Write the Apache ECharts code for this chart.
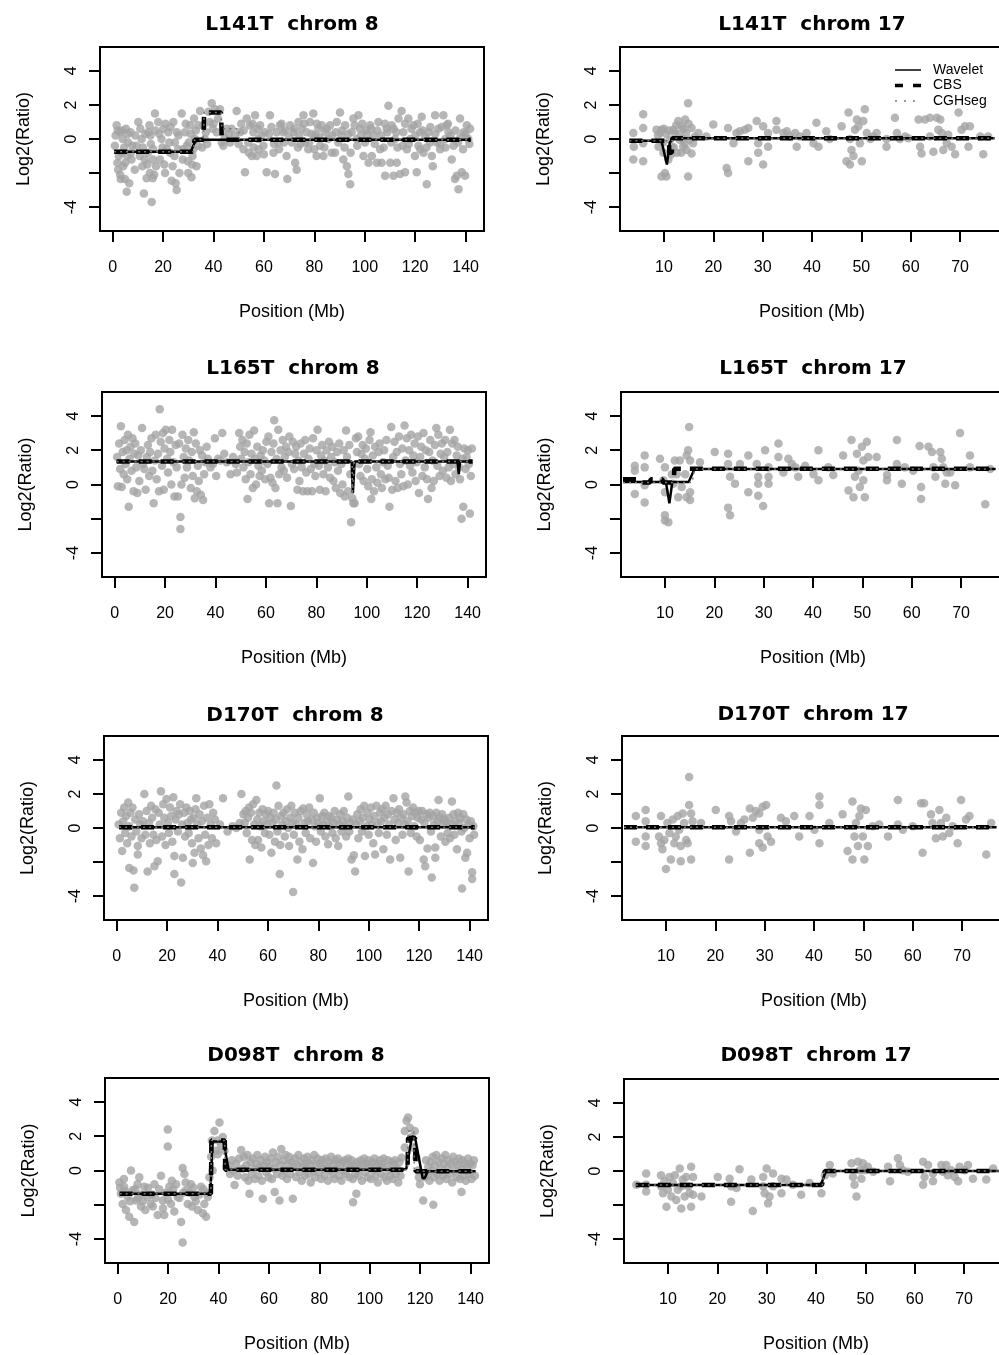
<!DOCTYPE html>
<html>
<head>
<meta charset="utf-8">
<script src="https://cdn.jsdelivr.net/npm/echarts@6.0.0/dist/echarts.min.js"></script>
<style>
  html, body { margin: 0; padding: 0; background: #fff; }
  #chart { width: 999px; height: 1355px; }
</style>
</head>
<body>
<div id="chart"></div>
<script>
// tick values
const xTicks8 = [0, 20, 40, 60, 80, 100, 120, 140];
const xTicks17 = [10, 20, 30, 40, 50, 60, 70];
const yTicks = [-4, -2, 0, 2, 4];
const yLabels = [-4, 0, 2, 4];

const titles = ['L141T  chrom 8', 'L141T  chrom 17', 'L165T  chrom 8', 'L165T  chrom 17',
  'D170T  chrom 8', 'D170T  chrom 17', 'D098T  chrom 8', 'D098T  chrom 17'];

// ---- L141T chrom 8 ----
const l141t8Pts = [
  [0.9,-0.4],[1.6,0.8],[1.9,-1.4],[2.2,-1.8],[2.9,0.4],[3.2,-2.35],[3.6,-0.8],[4,0],[4.2,-1.6],[4.9,-2.35],[5.3,0.6],[5.6,-3.1],[5.8,-1.0],[6.2,-0.2],[6.6,-2.6],[7.1,0.4],[7.5,-1.2],[7.9,-0.4],
  [1.2,0.2],[2.5,-1.0],[3.8,0.5],[4.6,-0.5],[6.0,0.3],[7.3,-0.8],[2.0,0.5],[5.0,-1.4],[3.0,-2.1],
  [8.8,-1.8],[10.2,1.0],[9.5,-0.4],[10.8,-1.0],[11.5,0],[12.4,-3.2],[12.8,-1.2],[13.5,-2.3],[14.2,0.4],[14.6,0.8],[14.8,-2.0],[15.5,-3.7],[15.9,-2.3],[16.1,-0.6],[16.8,1.5],[17.2,-1.6],
  [9.0,0.2],[11.0,0.6],[12.0,-0.5],[13.0,0.3],[14.0,-0.8],[15.0,0.2],[16.0,-1.2],[17.0,0.5],[13.8,-1.5],[16.5,-2.1],[15.2,-0.3],[11.8,-1.6],
  [18.1,1.0],[18.8,-1.2],[19.4,0],[20.1,0.6],[20.8,-2.0],[21.4,-0.6],[22.1,0.4],[22.8,-0.8],[23.4,-2.45],[24.1,1.0],[24.7,-0.2],[25.4,-3.0],[26.1,0.2],[26.5,-2.0],
  [18.5,0.3],[19.8,-0.5],[21.0,0.9],[22.5,-0.2],[23.0,0.7],[24.5,-1.0],[25.5,0.4],[26.0,-0.6],[20.5,-1.5],[23.8,-1.6],[25.0,-2.6],
  [27.4,1.5],[27.8,-1.2],[28.7,0.4],[29.4,-0.4],[30,-2.0],[30.7,0.8],[31.3,-2.25],[31.7,-1.0],[32.3,1.2],[32.7,0],[33.3,-1.6],[34,0.8],[34.7,1.65],
  [28.0,-0.6],[29.0,0.9],[30.2,-0.2],[31.0,0.3],[32.0,-0.6],[33.0,0.5],[33.8,-0.4],[29.8,-1.3],[31.5,-1.5],
  [36,0.8],[36.6,0],[38,1.6],[39.3,2.1],[39.7,0.6],[40.6,1.75],[41.3,0.4],[42.6,1.75],[43.3,-0.2],[43.9,-0.4],[45.2,0.6],[46.6,-0.2],[47.2,0.6],
  [35.5,-0.5],[37.0,0.4],[38.5,1.0],[40.0,0.9],[41.8,1.2],[44.5,0.1],[46.0,0.3],[37.5,-0.3],
  [49.2,1.65],[50.5,0.4],[51.9,-0.6],[52.5,-1.95],[53.2,1.2],[53.8,-0.2],[54.5,0.8],[55.2,-1.0],[55.8,0.4],[56.5,1.4],[57.1,-1.0],[57.8,0],[58.5,0.8],[59.8,-0.4],[60.4,0.4],[61.1,-1.95],
  [48.5,0.2],[50.0,-0.3],[51.0,0.9],[52.0,0.5],[54.0,-0.8],[56.0,-0.5],[57.5,0.6],[59.0,0.2],[60.0,-0.9],[58.0,-0.6],[55.5,0.9],
  [62.4,1.4],[63.8,-0.8],[64.4,-2.05],[65.1,0.4],[65.7,-0.2],[66.4,0.8],[67.7,0.4],[69,-1.0],[69.3,-2.35],[70.4,0.8],[71.1,-0.2],[71.7,0.4],[72.4,-1.4],[73,-1.8],[73.7,1.0],
  [62.0,0.3],[63.0,0.7],[64.0,-0.3],[66.0,-0.6],[67.0,0.9],[68.0,-0.2],[68.5,0.5],[70.0,0.1],[72.0,0.6],[73.5,-0.5],[74.0,0.2],
  [75,0.6],[75.7,1.4],[76.3,-0.2],[77,0.4],[77.6,-0.6],[78.3,1.0],[79.6,1.5],[80.3,0.2],[80.9,-1.0],[81.6,0.6],[82.3,-0.4],[82.9,0.8],[83.6,-1.0],[84.3,0.4],[85.6,0],[86.2,0.8],[86.9,-0.8],
  [74.5,-0.3],[76.0,0.9],[78.0,-0.2],[79.0,0.3],[81.0,0.9],[82.0,0.1],[84.0,-0.5],[85.0,0.6],[87.0,0.2],[80.0,-0.6],
  [88.2,-0.8],[88.9,1.0],[90.2,1.55],[90.9,0.2],[91.5,-1.2],[92.2,0.8],[92.9,-1.6],[93.5,-2.05],[94.2,-2.65],[94.4,-0.8],[94.8,0.4],[95.5,1.2],[96.8,0],[97.5,1.4],[98.1,0.6],[99.5,-1.0],[100.1,-0.2],
  [88.5,0.4],[89.5,-0.2],[91.0,0.5],[92.0,-0.5],[93.5,0.3],[96.0,0.8],[97.0,-0.4],[98.5,0.2],[99.0,0.9],[100.5,0.5],
  [101.5,-1.4],[102.1,0.8],[102.8,-1.0],[103.4,0.2],[104.8,-1.4],[105.4,1.0],[106.1,-0.6],[106.7,-1.4],[108.1,-2.15],[108.7,0.6],[109.4,1.95],[110.1,-1.4],[110.7,0.8],[111.4,-2.15],[112,0],[112.7,-1.4],[113.4,1.2],[114,-2.05],
  [101.0,0.3],[102.5,0.6],[104.0,-0.3],[105.0,0.5],[106.5,0.2],[107.5,-0.5],[109.0,0.4],[110.5,-0.2],[111.5,0.6],[113.0,-0.5],[108.0,0.9],[112.5,0.4],
  [114.6,1.65],[115.3,0.4],[116,-1.95],[116.7,-0.6],[117.3,1.2],[118,0],[119.3,0.8],[119.9,-1.0],[120.6,-1.95],[121.3,-0.4],[121.9,0.4],[122.6,1.3],[123.3,-0.8],[124.6,-2.65],[125.3,0.4],[125.9,-0.2],[126.6,-1.0],[127,-1.6],
  [115.0,-0.4],[116.0,0.9],[117.5,-0.3],[118.5,0.6],[120.0,0.2],[121.0,0.9],[122.0,-0.6],[123.0,0.5],[124.0,0.1],[126.0,0.7],[124.5,-0.5],
  [127.9,1.4],[128.6,-0.2],[129.2,0.6],[129.9,-0.6],[131.2,1.4],[131.9,0],[132.5,0.8],[133.2,0.4],[134.5,-1.2],[135.2,-0.4],[135.8,-2.35],[136.5,-2.15],[137.2,-2.95],[137.8,1.2],[138.5,-1.95],[139.2,0.4],[139.8,-2.15],[140.5,0.8],[141.1,0],[141.8,0.6],
  [128.0,0.3],[130.5,0.7],[130.0,-0.3],[132.0,-0.5],[133.0,0.9],[134.0,0.2],[136.0,0.5],[137.0,-0.2],[138.0,0.1],[139.0,-0.6],[140.0,0.3],[141.5,-0.3]
];
const l141t8Wav = [[0.6,-0.75],[31,-0.75],[33,-0.05],[142,-0.05]];
const l141t8Cbs = [[0.6,-0.75],[32,-0.75],[32.5,-0.05],[36,-0.05],[36.3,1.55],[43,1.55],[43.3,-0.05],[142,-0.05]];
const l141t8Cgh = [[0.6,-0.75],[32,-0.75],[32.5,-0.05],[36,-0.05],[36.3,1.55],[43,1.55],[43.3,0.6],[50,0.6],[50.3,-0.05],[142,-0.05]];

// ---- L141T chrom 17 ----
const l141t17Pts = [
  [3.8,0.35],[3.9,-0.45],[3.8,-1.2],[5.8,1.45],[5.8,0.65],[5.8,-0.25],[5.8,-1.3],
  [8.5,0.55],[8.9,-0.45],[9.2,0.35],[9.5,0.55],[9.9,-0.8],[10.2,-2.0],[9.5,-2.2],[10.5,-2.2],[10.9,-1.2],[11.2,-0.05],[11.6,-0.45],[11.9,0.55],[12.2,0.35],[12.6,-0.8],[12.9,1.05],[13.2,-0.05],[13.6,0.75],[13.9,-0.45],[14.3,1.15],[14.5,0.35],[14.6,-0.65],[14.9,2.1],[14.9,-2.2],[15.3,-0.05],[15.6,0.65],[15.9,-0.25],[15.6,-0.85],[17,0.35],[16.3,0.15],
  [8.8,0.2],[10.0,0.6],[10.5,0.3],[11.0,0.5],[12.0,-0.5],[13.0,0.3],[13.5,-0.8],[14.0,0.6],[12.5,0.8],[11.5,-0.9],[15.0,0.9],[14.2,-0.3],[9.8,-0.2],[13.8,0.0],
  [20,0.85],[18.6,0.15],[23,0.65],[22.7,-1.7],[23,-2.0],[24.1,-0.25],[24.7,0.35],[25.4,0.45],[26.4,0.55],[27.1,0.65],[27.1,-1.3],[28.8,1.05],[29.1,-0.25],[29.1,-0.8],[30.1,0.75],[30.1,-1.5],[31.1,-0.45],[31.1,0.35],
  [32.8,1.05],[32.8,0.55],[34.2,0.35],[34.9,0.45],[35.5,0.15],[36.6,0.35],[36.9,-0.45],[37.6,0.15],[38.9,0.35],[40.3,-0.25],[40.9,0.95],[41.3,-0.45],[42.9,0.45],[43.6,0],
  [46,0.75],[47.4,1.55],[47.7,0],[47,-1.3],[47.7,-1.5],[48,-0.65],[48.4,-1.0],[48.7,0.55],[49.1,1.15],[49.4,0.75],[49.7,-0.25],[50.1,-1.3],[50.4,1.05],[50.7,1.75],[51.1,0.35],[51.8,0],[52.4,0.15],[53.1,0.35],
  [55.1,-0.45],[55.1,0],[56.8,1.25],[57.2,0.35],[57.8,0],[58.9,0.15],[59.5,0.05],[61.6,1.15],[61.9,-0.45],[62.2,-0.85],[62.9,1.15],[63.9,1.25],[63.9,0.15],[64.6,-0.75],
  [65.3,1.25],[65.6,0.55],[66,1.15],[66.3,0.35],[66.6,-0.65],[67.3,-0.25],[67.6,0.25],[68.3,-0.45],[69,-0.9],[69.7,1.55],[70.3,0.55],[71,0.75],[71.7,-0.45],[72,0.75],[74.7,-0.9],[75.7,0.15],[74.1,0.15]
];
const l141t17Wav = [[3,-0.1],[9.5,-0.1],[10.6,-1.5],[11.2,-0.2],[12,0.05],[77,0.05]];
const l141t17Cbs = [[3,-0.1],[11,-0.1],[11.1,-0.8],[11.6,-0.8],[11.7,0.05],[77,0.05]];
const l141t17Cgh = [[3,-0.1],[12,-0.1],[12.1,0.05],[77,0.05]];

// ---- L165T chrom 8 ----
const l165t8Pts = [
  [1.0,1.6],[1.3,-0.1],[1.8,2.4],[2.2,0.9],[2.5,3.4],[2.8,-0.15],[3.2,1.9],[3.6,0.6],[4.0,2.6],[4.4,1.2],[4.8,2.0],[5.0,0.3],[5.6,-1.3],[5.3,2.9],
  [5.9,1.5],[6.3,2.2],[6.7,0.8],[7.1,2.7],[7.5,-0.4],[7.8,1.8],[8.2,2.4],[8.6,1.0],[9.0,-0.5],[9.4,1.7],[9.8,0.2],
  [10.4,2.0],[10.9,3.3],[11.3,1.2],[11.8,0.9],[12.3,-0.3],[12.8,1.6],[13.2,2.3],[13.7,0.5],[14.1,1.9],[14.6,2.7],[15.0,0.8],
  [15.5,-1.1],[15.9,1.4],[16.3,2.9],[16.7,0.3],[17.2,1.8],[17.6,-0.4],[17.9,4.4],[18.3,2.5],[18.8,1.1],[19.2,3.0],[19.5,-0.3],[19.8,2.1],
  [20.3,3.2],[20.8,1.5],[21.2,0.7],[21.7,2.6],[22.1,1.9],[22.5,0.0],[22.8,3.2],[23.3,1.3],[23.7,-0.7],[24.2,2.3],[24.6,1.0],
  [25.1,-0.7],[25.6,2.4],[26.1,-1.9],[26.1,-2.6],[26.5,0.0],[26.9,2.9],[27.4,1.6],[27.8,0.4],[28.3,2.1],[28.7,1.0],[29.2,2.6],[29.6,1.4],
  [30.2,-0.2],[30.6,1.9],[31.0,0.5],[31.4,3.05],[31.8,-0.8],[32.2,2.4],[32.6,-0.4],[33.0,1.1],[33.4,0.2],[33.8,2.0],[34.2,-0.6],[34.7,1.7],
  [35.1,-0.9],[35.5,0.6],[36.0,1.3],[36.5,2.2],[37.0,1.5],[38.0,1.0],[39.0,1.2],[39.8,2.7],[40.3,0.5],
  [41.0,1.5],[42.0,1.4],[42.7,3.0],[43.5,1.8],[44.5,1.3],
  [46.0,0.6],[47.0,1.6],[48.0,1.2],[48.5,0.7],[49.4,3.0],[49.8,2.2],[50.2,1.5],
  [50.7,2.6],[51.1,1.0],[51.6,1.9],[52.0,0.3],[52.4,2.4],[52.7,-0.85],[53.1,1.3],[53.5,2.9],[53.9,0.6],[54.3,1.8],[54.8,-0.2],
  [55.3,3.15],[55.7,1.5],[56.1,0.0],[56.6,2.2],[57.0,1.1],[57.5,0.5],[57.9,1.7],[58.4,0.8],[58.8,2.0],[59.3,1.4],[59.7,0.3],
  [60.2,2.5],[60.6,1.2],[61.0,2.8],[61.3,-1.1],[61.8,0.4],[62.2,1.9],[62.6,0.1],[63.0,2.4],[63.3,3.75],[63.8,-0.2],[64.2,1.5],[64.6,-1.1],[64.9,3.2],
  [65.3,0.6],[65.8,2.0],[66.2,1.0],[66.7,2.6],[67.1,0.8],[67.5,1.6],[68.0,2.2],[68.4,0.4],[68.9,1.9],[69.3,2.8],[69.9,-1.25],
  [70.3,1.2],[70.7,2.5],[71.2,0.9],[71.6,1.8],[72.0,2.2],[72.5,-0.3],[72.9,1.4],[73.3,0.2],[73.8,2.4],[74.2,1.0],[74.7,-0.4],
  [75.1,1.8],[75.6,2.6],[76.0,0.7],[76.5,-0.4],[76.9,1.5],[77.4,2.1],[77.8,0.9],[78.3,-0.4],[78.7,2.7],[79.2,1.2],[79.6,0.5],
  [80.1,2.0],[80.5,3.2],[81.0,1.1],[81.4,-0.3],[81.9,1.7],[82.3,2.3],[82.8,0.6],[83.2,1.4],[83.7,-0.4],[84.1,2.0],[84.6,1.0],
  [85.0,2.5],[85.5,0.4],[85.9,1.6],[86.4,2.2],[86.8,0.2],[87.3,1.3],[87.7,-0.2],[88.2,1.9],[88.6,0.8],[89.1,2.4],[89.5,-0.5],
  [90.0,1.2],[90.4,0.0],[90.9,2.0],[91.3,-0.7],[91.8,3.15],[92.2,1.6],[92.6,-0.4],[93.1,2.3],[93.5,0.6],[93.8,-2.2],[94.3,-0.8],[94.7,-1.1],
  [95.2,-1.1],[95.7,2.7],[96.1,1.9],[96.6,2.8],[97.0,1.2],[97.5,0.5],[97.9,1.8],[98.4,2.3],[98.8,0.2],[99.3,1.5],[99.7,2.1],
  [100.2,0.9],[100.6,-0.1],[101.1,2.6],[101.5,3.05],[101.8,-0.85],[102.0,0.3],[102.4,1.7],[102.9,-0.4],[103.3,2.2],[103.8,1.0],[104.2,0.1],[104.7,1.9],
  [105.1,2.4],[105.6,0.6],[106.0,-0.2],[106.5,1.3],[106.9,2.0],[107.4,0.3],[107.8,2.6],[108.3,1.1],[108.7,0.4],[109.0,-1.3],[109.7,3.35],
  [110.1,-0.3],[110.5,1.6],[111.0,2.5],[111.4,0.2],[111.9,1.9],[112.3,-0.2],[112.8,2.8],[113.2,1.2],[113.7,0.6],[114.1,2.1],[114.5,-0.1],[115.0,3.45],
  [115.4,1.4],[115.9,2.7],[116.3,0.0],[116.8,2.0],[117.2,1.1],[117.6,2.9],[118.1,0.7],[118.5,1.7],[119.0,2.4],[119.4,0.2],[119.8,1.3],
  [120.3,2.8],[120.7,-0.5],[121.2,1.6],[121.6,2.2],[122.1,0.5],[122.5,3.0],[123.0,1.0],[123.4,2.0],[123.9,0.3],[124.3,-0.85],[124.8,1.9],
  [125.2,2.6],[125.7,-0.2],[126.1,1.4],[126.6,0.2],[127.0,2.3],[127.6,3.3],[128.0,1.1],[128.4,2.9],[128.9,0.5],[129.3,1.8],[129.8,2.4],
  [130.2,0.8],[130.7,1.6],[131.1,2.6],[131.6,0.4],[132.0,1.9],[132.5,1.0],[133.0,3.2],[133.4,0.2],[133.9,2.4],[134.3,1.2],[134.8,2.6],
  [135.2,0.6],[135.7,1.7],[136.1,2.2],[136.6,1.0],[137.0,0.3],[137.6,-2.0],[138.0,1.5],[138.3,-1.3],[138.7,2.1],[139.2,0.9],[139.6,1.6],[140.1,2.0],[140.5,1.2],[140.9,-1.7],[141.3,0.5],[141.7,2.1]
];
const l165t8Wav = [[0.8,1.35],[94,1.35],[94.5,-0.5],[95.2,1.35],[136,1.35],[136.5,0.6],[137,1.35],[142,1.35]];
const l165t8Cbs = [[0.8,1.35],[142,1.35]];
const l165t8Cgh = [[0.8,1.35],[94.2,1.35],[94.3,-0.6],[95,-0.6],[95.1,1.35],[142,1.35]];

// ---- L165T chrom 17 ----
const l165t17Pts = [
  [3.9,1.1],[3.9,0.8],[3.9,-0.55],[5.9,1.7],[5.9,1.0],[5.9,-0.05],[5.9,-1.05],[9,1.5],[10,1.0],[9.7,0.25],[10,-0.45],[10,-1.8],[10.7,-2.2],[10,-2.1],
  [11.4,0.6],[11.7,0.05],[12,1.4],[12.4,0.6],[12.7,-0.75],[13,1.4],[13.4,-0.15],[14.1,0.6],[14.4,-0.75],[14.7,2.0],[14.9,3.35],[15.1,1.4],[15.1,-0.45],[15.1,-0.9],[14.4,1.7],[17.1,1.3],
  [20.1,1.9],[22.8,1.8],[22.8,1.2],[23.2,0.45],[24.2,0.05],[22.8,-1.35],[23.2,-1.8],[25.2,1.2],[26.9,1.7],[26.9,-0.45],[28.6,1.2],[28.9,0.45],[28.9,0.05],[28.9,-0.65],[29.9,-1.25],[30.3,2.0],[31,1.0],[31,0.45],[31,0.05],
  [33,2.4],[33,1.6],[34,0.7],[35,1.5],[35.7,1.2],[36.4,1.0],[37,0.45],[38.4,1.1],[40.1,0.6],[41.1,2.0],[41.1,0.25],[43.1,1.0],[44.1,0.55],
  [46.1,1.7],[47.2,-0.35],[47.8,2.6],[48.2,-0.75],[48.5,0.45],[48.9,1.8],[49.2,0.8],[49.5,-0.15],[49.9,2.2],[50.2,1.4],[50.5,-0.75],[50.2,0.25],[50.9,2.5],[51.2,1.6],[52.9,1.6],
  [55,0.55],[55,0.25],[57,2.6],[57,1.2],[58,0.05],[58.6,1.0],[60.3,0.8],[61.6,2.25],[61.9,-0.15],[61.9,-0.85],[63.4,2.2],[64.1,1.9],[64.4,1.0],[64.8,0.45],
  [65.8,1.9],[66.1,1.5],[66.4,1.0],[66.8,0.05],[67.1,0.7],[67.8,0.7],[68.8,-0.05],[69.8,3.0],[71.8,1.7],[71.8,1.0],[74.9,-1.15],[75.9,0.9]
];
const l165t17Wav = [[1.5,0.15],[10.2,0.15],[10.9,-1.1],[11.5,0.15],[14.8,0.15],[16,0.9],[77,0.9]];
const l165t17Cbs = [[1.5,0.3],[4.2,0.3],[4.3,0.12],[7,0.12],[7.1,0.3],[9.5,0.3],[9.6,0.12],[11.8,0.12],[11.9,0.92],[77,0.92]];
const l165t17Cgh = [[1.5,0.12],[15.5,0.12],[16,0.9],[77,0.9]];

// ---- D170T chrom 8 ----
const d170t8Pts = [
  [0.8,0.2],[1.3,-0.6],[1.8,0.9],[2.2,-1.35],[2.6,0.4],[3.0,1.2],[3.4,-0.3],[3.8,0.7],[4.2,-0.9],[4.6,1.5],[5.0,-2.35],[5.0,0.1],
  [5.5,0.9],[5.9,-0.5],[6.3,1.2],[6.7,-2.5],[7.0,-3.5],[7.4,0.5],[7.8,-0.2],[8.4,-1.05],[8.4,-1.55],[8.9,0.8],[9.4,0.2],[9.9,-0.6],
  [10.4,0.4],[11.0,2.0],[11.4,-0.4],[11.9,1.0],[12.3,-2.55],[12.8,0.3],[13.2,-0.9],[13.7,1.3],[14.1,0.6],[14.6,-0.4],[15.0,-2.25],
  [15.4,1.1],[15.8,-0.7],[16.3,-1.95],[16.7,0.9],[17.1,0.2],[17.6,2.15],[18.0,-0.5],[18.5,1.4],[18.9,0.6],[19.4,-1.0],[19.8,1.7],
  [20.3,0.3],[20.7,-0.3],[21.2,1.2],[21.6,0.7],[22.1,-0.8],[22.5,1.8],[22.9,-1.65],[22.9,-2.7],[23.4,0.5],[23.8,1.0],[24.3,-0.2],[24.7,0.8],
  [25.2,1.4],[25.6,-3.2],[26.0,0.2],[26.3,-1.75],[26.8,0.9],[27.2,-0.5],[27.7,1.2],[28.1,0.3],[28.6,-0.3],[29.0,1.0],[29.5,0.5],[29.9,-0.9],
  [30.2,-2.05],[30.6,0.6],[30.9,-1.45],[31.3,1.1],[31.6,1.75],[32.0,0.2],[32.5,-0.6],[32.9,0.8],[33.4,-1.2],[33.8,0.4],[34.3,-1.6],[34.7,1.3],
  [35.1,-0.4],[35.5,-1.95],[35.9,0.6],[36.4,-1.0],[36.8,1.4],[37.3,0.2],[37.8,-0.6],[38.3,0.9],[39.0,0.5],[39.5,-0.9],
  [41.0,0.2],[42.2,1.75],[44.0,-0.2],[46.0,0.1],[47.5,0.0],[48.8,0.3],[49.5,2.0],
  [50.3,0.8],[50.8,0.3],[51.2,1.0],[51.6,-0.3],[52.1,0.6],[52.5,1.2],[52.8,-1.85],[53.3,0.9],[53.7,-0.7],[54.1,1.4],[54.6,0.2],[55.0,-1.0],
  [55.4,1.65],[55.8,0.5],[56.1,-0.7],[56.6,0.9],[57.0,0.1],[57.4,-1.15],[57.9,1.1],[58.3,0.4],[58.8,-0.3],[59.2,0.8],[59.7,0.2],
  [60.1,1.0],[60.6,-0.4],[61.0,0.6],[61.4,-1.45],[61.9,0.3],[62.3,0.9],[62.8,-0.8],[63.2,0.5],[63.4,2.5],[63.8,-0.2],[64.2,1.3],[64.7,-2.7],[64.9,-1.0],
  [65.3,0.7],[65.8,0.2],[66.2,0.9],[66.7,-0.5],[67.1,0.4],[67.6,1.1],[68.0,0.0],[68.4,-1.05],[68.9,0.6],[69.3,1.3],[69.8,0.3],
  [70.0,-3.75],[70.3,-0.4],[70.7,0.9],[71.2,0.2],[71.7,-1.85],[72.1,0.6],[72.5,-0.8],[73.0,1.0],[73.7,-1.25],[74.0,1.15],[74.5,0.3],
  [75.0,-0.3],[75.4,0.8],[75.9,0.4],[76.4,1.2],[76.8,-0.6],[77.3,0.5],[77.9,-2.05],[78.2,0.9],[78.7,0.1],[79.1,-0.8],[79.6,0.6],
  [80.0,0.3],[80.6,1.75],[81.0,-0.2],[81.5,0.7],[81.9,0.2],[82.4,0.9],[82.8,-0.5],[83.3,0.4],[83.9,-0.95],[84.2,0.7],[84.7,0.1],
  [85.1,0.6],[85.6,-0.3],[86.0,0.3],[86.5,1.0],[86.9,-0.6],[87.4,0.5],[87.9,-1.05],[88.3,0.2],[88.8,0.8],[89.2,-0.2],[89.7,0.4],
  [90.1,1.0],[90.6,0.1],[91.0,-0.5],[91.5,0.6],[91.9,1.85],[92.3,-0.2],[92.8,0.3],[93.2,-1.85],[93.7,0.5],[94.1,-1.6],[94.6,-2.55],
  [95.0,0.2],[95.5,0.8],[95.9,-0.6],[96.4,0.4],[96.8,1.1],[97.3,-0.2],[97.7,0.6],[98.2,1.3],[98.5,-1.65],[99.0,0.1],[99.5,0.9],
  [100.0,-0.4],[100.4,0.5],[100.9,1.2],[101.3,0.2],[101.8,-0.9],[102.2,0.7],[102.5,-1.55],[103.1,1.3],[103.6,0.3],[104.0,-0.3],[104.5,0.9],
  [104.9,0.4],[105.4,1.1],[105.8,-1.25],[106.3,0.6],[106.7,1.3],[107.2,-0.4],[107.6,0.8],[108.1,0.2],[108.5,-1.85],[109.0,1.0],[109.8,1.75],
  [110.2,0.5],[110.7,-0.7],[111.1,0.9],[111.6,0.3],[112.0,1.1],[112.5,-1.75],[112.9,0.6],[113.4,-0.4],[113.8,0.8],[114.3,0.2],[114.5,1.85],
  [115.0,1.5],[115.4,0.4],[115.8,-2.55],[116.3,1.0],[116.7,-0.3],[117.2,0.7],[117.6,1.2],[118.1,0.1],[118.5,0.9],[119.0,-0.5],[119.4,0.6],
  [119.9,1.0],[120.3,-0.7],[120.8,0.5],[121.2,1.0],[121.8,-1.85],[122.1,0.3],[122.4,-2.25],[122.9,0.8],[123.3,-1.2],[123.8,0.6],[124.2,0.9],[124.7,-0.2],
  [125.0,-2.9],[125.5,0.7],[125.9,0.2],[126.4,-1.75],[126.4,-1.15],[126.8,0.9],[127.3,0.4],[127.7,1.65],[128.2,0.6],[128.6,-0.5],[129.1,0.8],[129.5,0.2],
  [130.0,0.5],[130.4,-0.8],[130.9,0.3],[131.3,-0.3],[131.8,0.6],[132.2,-0.6],[132.7,0.2],[133.0,1.55],[133.6,0.8],[134.0,-0.4],[134.5,0.4],[135.0,-1.25],
  [135.4,0.9],[135.9,0.3],[136.3,0.6],[136.8,-0.2],[137.0,-3.55],[137.5,0.8],[137.9,0.0],[138.3,-1.75],[138.8,0.5],[139.0,-1.45],[139.6,0.2],[140.0,-0.6],[140.5,0.4],[141.0,-2.6],[141.0,-3.0],[141.5,0.1],[141.8,-0.4]
];
const d170t8Wav = [[1,0.05],[142,0.05]];
const d170t8Cbs = [[1,0.05],[142,0.05]];
const d170t8Cgh = [[1,0.05],[142,0.05]];

// ---- D170T chrom 17 ----
const d170t17Pts = [
  [3.9,0.7],[3.9,-0.8],[5.9,1.05],[5.9,0.4],[5.9,-0.5],[5.9,-1.05],[9,0.7],[8.6,-0.5],[9,-0.9],[9.3,-1.25],[10,-2.4],[9.7,-0.7],[10.3,0.3],[10.7,-0.3],[11,-1.85],
  [11.4,0.5],[11.7,-0.9],[12,-0.5],[12.4,0.7],[12.7,-0.1],[13,-1.95],[13,-1.05],[13.4,0.85],[13.7,0.3],[14.1,-0.7],[14.4,-0.9],[14.7,3.0],[14.7,1.35],[15.1,0.85],[15.1,-1.85],[15.4,0.4],[17.1,0.3],
  [20.1,1.05],[22.8,-1.85],[22.8,0.7],[23.2,0.4],[24.2,-0.2],[25.2,0.3],[25.9,0.5],[27,1.15],[27,-1.45],[27.6,0.6],[28.2,1.0],[28.9,0.85],[28.9,-0.1],[28.9,-0.9],[29.6,1.25],[29.6,-1.15],[30.3,1.35],[30.6,-0.5],[31.3,-0.8],
  [33.3,0.6],[34.3,0.4],[36,0.7],[37,-0.5],[39.1,0.7],[40.1,-0.1],[41.1,1.85],[41.1,1.35],[41.1,-0.9],[43.1,0.3],
  [45.8,0.8],[46.8,-1.35],[47.8,1.55],[47.8,-1.85],[48.2,-0.5],[48.5,0.3],[48.9,-1.05],[49.2,0.7],[49.5,1.15],[49.9,-0.5],[50.2,-1.85],[50.5,1.05],[50.9,-1.05],[51.9,0.1],[53.2,0.2],
  [55,-0.5],[57,1.65],[57,0.2],[58,-0.1],[60,0.1],[61.7,1.45],[62,-1.45],[62.3,1.45],[63.7,0.8],[64,0.3],[64.7,-0.6],
  [65.4,1.05],[65.7,0.3],[66.1,-0.5],[66.8,0.6],[67.4,-0.3],[68.1,0.1],[69.1,-0.9],[69.8,1.65],[70.8,0.5],[71.5,0.7],[74.9,-1.55],[75.9,0.3]
];
const d170t17Wav = [[1.5,0.05],[77,0.05]];
const d170t17Cbs = [[1.5,0.05],[77,0.05]];
const d170t17Cgh = [[1.5,0.05],[77,0.05]];

// ---- D098T chrom 8 ----
const d098t8Pts = [
  [0.7,-0.7],[1.3,-1.35],[2,-1.95],[2.6,-0.95],[3.3,-2.3],[4,-1.55],[4.6,-2.7],[5.3,0],[6,-1.15],[6.6,-3.0],[7.3,-1.75],[7.9,-0.8],[8.6,-0.4],[9.3,-2.1],
  [10.6,-0.95],[11.9,-1.55],[13.2,-1.95],[14.6,-0.8],[15.9,-2.6],[17.2,-0.3],[17.9,-1.75],[18.5,-2.6],[19.9,2.4],[19.9,1.4],[20.5,-0.95],[21.2,-1.95],[22.5,-2.4],[23.2,-0.8],[23.8,-1.55],
  [25.2,-3.0],[25.8,-4.2],[25.8,0.15],[26.5,-0.2],[27.2,-1.15],[27.8,-1.95],[29.1,-0.8],[30.5,-1.55],[31.8,-2.3],[33.1,-0.95],[33.8,-2.5],[34.4,-1.95],[35.1,-2.7],[35.8,-1.55],[36.4,-0.4],
  [1.0,-1.0],[3.0,-1.2],[5.0,-1.8],[7.0,-1.1],[9.0,-1.4],[10.0,-1.8],[12.0,-1.0],[13.5,-1.4],[15.0,-1.6],[16.5,-1.1],[19.0,-1.3],[20.0,-1.7],[22.0,-1.1],[24.5,-1.6],[26.0,-1.3],[28.5,-1.3],[30.0,-1.0],[31.0,-1.8],[32.5,-1.4],[34.0,-1.1],[35.5,-1.3],[11.0,-2.3],[14.0,-2.1],[18.0,-2.2],[21.5,-0.6],[29.5,-2.1],[2.5,-0.5],[8.0,-1.6],[27.0,-0.7],
  [37.1,0.8],[37.4,1.75],[38.4,2.3],[39.1,1.15],[39.7,1.75],[40.4,2.8],[39.7,0.95],[41.1,1.45],[41.7,1.95],[42.4,1.15],[43,0.2],[37.7,0],
  [44.0,0.3],[44.6,-0.2],[45.3,0.6],[45.8,0.0],[46.4,-0.85],[47.0,0.4],[47.6,-0.3],[48.2,0.7],[49.0,1.2],[49.5,0.1],
  [50.1,0.8],[50.6,-0.4],[51.0,0.3],[51.5,0.9],[51.9,-0.6],[52.3,-1.35],[52.7,0.5],[53.2,-0.2],[53.6,0.7],[54.1,0.1],[54.5,-0.5],[55.0,0.4],
  [55.4,0.9],[55.9,-0.3],[56.3,0.2],[56.8,0.6],[57.2,-0.6],[57.6,-1.65],[58.1,0.3],[58.5,0.8],[59.0,-0.1],[59.4,0.5],[59.9,-0.4],
  [60.3,0.2],[60.8,0.7],[61.2,-0.5],[61.6,1.05],[62.1,0.1],[62.3,-1.25],[62.8,0.5],[63.3,-0.2],[63.7,0.8],[64.2,-1.75],[64.5,0.3],[64.9,1.25],
  [65.4,-0.3],[65.8,0.6],[66.3,0.0],[66.7,0.9],[67.2,-0.5],[67.6,0.4],[68.1,0.8],[68.5,-0.2],[69.0,0.5],[69.5,-1.65],[69.9,0.2],
  [70.3,0.7],[70.8,-0.4],[71.2,0.3],[71.7,0.9],[72.1,-0.1],[72.6,0.5],[73.0,-0.6],[73.5,0.2],[73.9,0.7],[74.4,-0.3],[74.8,0.4],
  [75.3,0.8],[75.7,-0.2],[76.2,0.4],[76.6,-0.7],[77.1,0.6],[77.5,0.0],[78.0,0.9],[78.4,-0.4],[78.9,0.3],[79.3,0.7],[79.8,-0.1],
  [80.2,0.4],[80.7,-0.5],[81.1,0.6],[81.6,0.1],[82.0,-0.3],[82.5,0.7],[82.9,0.2],[83.4,-0.6],[83.8,0.5],[84.3,0.0],[84.7,0.8],
  [85.2,-0.2],[85.6,0.4],[86.1,-0.5],[86.5,0.6],[87.0,0.1],[87.4,0.7],[87.9,-0.3],[88.3,0.3],[88.8,-0.6],[89.2,0.5],[89.7,0.0],
  [90.1,0.6],[90.6,-0.2],[91.0,0.4],[91.5,0.7],[91.9,-0.4],[92.4,0.2],[92.8,0.6],[93.3,-0.5],[93.4,-1.85],[93.7,0.3],[94.2,-0.2],[94.7,-1.35],
  [95.1,0.5],[95.6,-0.3],[96.0,0.1],[96.5,0.6],[96.9,-0.6],[97.4,0.3],[97.8,0.7],[98.3,-0.1],[98.7,0.4],[99.2,-0.4],[99.6,0.6],
  [100.1,0.2],[100.5,-0.5],[101.0,0.5],[101.4,0.0],[101.9,0.7],[102.3,-0.3],[102.8,0.3],[103.2,-0.7],[103.7,0.4],[104.1,0.6],[104.6,-0.2],
  [105.0,0.3],[105.5,0.7],[105.9,-0.4],[106.4,0.2],[106.8,-0.6],[107.3,0.6],[107.7,0.0],[108.2,-0.3],[108.6,0.5],[109.1,-0.5],[109.5,0.3],[110.0,0.6],[110.4,-0.2],[110.9,0.1],[111.3,-0.7],[111.8,0.5],[112.2,-0.3],
  [113.9,2.3],[114.6,2.9],[115.2,3.1],[115.9,2.5],[116.6,1.95],[113.9,1.35],[112.6,0.75],[117.2,1.35],[117.9,2.3],[118.5,0.75],[119.2,0],[119.9,-0.8],[121.2,-1.75],[125.2,-2.0],[119.5,-0.4],[121.9,-0.4],
  [122.3,0.6],[122.8,-0.3],[123.2,0.2],[123.7,-0.6],[124.1,0.5],[124.6,0.0],[125.0,0.8],[125.5,-0.4],[125.9,0.3],[126.4,0.9],[126.8,-0.2],[127.3,0.5],[127.7,-0.6],[128.2,0.1],[128.6,0.7],[129.1,-0.3],[129.5,0.4],[130.0,0.9],
  [130.4,-0.5],[130.9,0.2],[131.3,0.6],[131.8,-0.2],[132.2,0.4],[132.7,-0.7],[133.1,0.8],[133.6,0.0],[134.0,0.5],[134.5,-0.4],[134.9,0.3],[135.4,0.7],[135.8,-0.5],[136.3,0.1],[136.4,-1.25],[136.8,0.6],[137.2,-0.3],[137.7,0.4],
  [138.1,-0.6],[138.6,0.2],[139.0,0.7],[139.5,-0.2],[139.9,0.4],[140.4,-0.5],[140.8,0.3],[141.3,0.6],[141.7,-0.3]
];
const d098t8Wav = [[0.8,-1.35],[36.8,-1.35],[37.6,1.7],[42,1.7],[44,0.05],[113,0.05],[114.5,0.1],[116.8,2.0],[118,1.9],[121,-0.45],[121.8,-0.45],[123,-0.05],[142,-0.05]];
const d098t8Cbs = [[0.8,-1.35],[37,-1.35],[37.2,1.75],[42.5,1.75],[42.7,0.05],[115,0.05],[115.2,1.9],[118,1.9],[118.2,-0.05],[142,-0.05]];
const d098t8Cgh = [[0.8,-1.35],[37,-1.35],[37.2,1.75],[42.5,1.75],[42.7,0.05],[115,0.05],[115.2,2.3],[117.5,2.3],[117.7,-0.05],[142,-0.05]];

// ---- D098T chrom 17 ----
const d098t17Pts = [
  [3.6,-0.8],[5.6,-0.15],[5.6,-0.8],[5.6,-1.2],[8.6,-0.25],[8.6,-0.9],[9,-1.3],[9.3,-0.6],[9.7,-2.1],[10,-1.1],[10.3,-0.35],[10.7,-1.5],[11,-0.7],[11.4,-0.25],[11.7,-1.7],[12,-1.1],[12.4,0.15],
  [12.7,-2.2],[12.7,-0.9],[13,-0.5],[13.4,-1.5],[13.7,-0.35],[14.1,-0.9],[14.4,-1.3],[14.7,0.25],[14.7,-2.1],[15.1,-0.35],[15.1,-1.4],[16.8,-1.5],
  [20.1,-0.35],[22.5,-0.45],[22.8,-0.9],[22.8,-1.8],[24.5,0.1],[23.9,-1.0],[27.2,-2.35],[26.9,-0.5],[29.3,-0.35],[29.3,-0.9],[29.6,-1.3],[30,0.15],[30.3,-1.9],[30.6,-1.5],[31.3,-0.15],[31.3,-0.9],
  [33,-0.45],[33,-1.3],[34,-0.5],[35.3,-0.8],[37,-1.4],[38.7,-0.7],[41.1,-1.3],[41.8,-0.25],[42.8,0.35],[43.4,-0.15],
  [47.2,0.45],[47.5,-0.35],[47.8,-0.8],[48.2,-1.5],[48.5,0.55],[48.9,0.05],[49.2,-0.45],[49.5,0.45],[49.9,0.05],[50.5,0.25],[51.6,-0.05],
  [54.6,0.25],[55,-0.6],[56.6,0.75],[57,0.35],[57.6,0.05],[58.6,-0.05],[61.7,0.55],[61.7,-0.8],[62,-0.35],[62.7,0.35],[63.7,-0.15],[63.7,-0.6],
  [65.4,0.35],[65.7,-0.05],[66.4,0.35],[66.7,-0.25],[67.4,0.05],[68.1,-0.35],[68.8,-0.6],[69.1,0.25],[70.1,0.05],[70.8,0.35],[71.8,-0.45],[74.5,-0.5],[75.9,0.15]
];
const d098t17Wav = [[3.5,-0.82],[41,-0.82],[42,0.0],[77,0.0]];
const d098t17Cbs = [[3.5,-0.82],[41.2,-0.82],[41.8,0.0],[77,0.0]];
const d098t17Cgh = [[3.5,-0.82],[41.3,-0.82],[41.7,0.0],[77,0.0]];

// ---- layout: [left, top, width, height], title centre, chromosome ----
const layout = [
  { box: [100, 47, 384, 184], tc: [292, 25], chr: 8 },
  { box: [620, 47, 384, 184], tc: [812, 25], chr: 17 },
  { box: [102, 392, 384, 185], tc: [293, 369], chr: 8 },
  { box: [621, 392, 384, 185], tc: [813, 369], chr: 17 },
  { box: [104, 736, 384, 184], tc: [295, 716], chr: 8 },
  { box: [622, 736, 384, 184], tc: [813, 715], chr: 17 },
  { box: [105, 1078, 384, 185], tc: [296, 1056], chr: 8 },
  { box: [624, 1079, 384, 184], tc: [816, 1056], chr: 17 }
];
const pts = [l141t8Pts, l141t17Pts, l165t8Pts, l165t17Pts, d170t8Pts, d170t17Pts, d098t8Pts, d098t17Pts];
const wav = [l141t8Wav, l141t17Wav, l165t8Wav, l165t17Wav, d170t8Wav, d170t17Wav, d098t8Wav, d098t17Wav];
const cbs = [l141t8Cbs, l141t17Cbs, l165t8Cbs, l165t17Cbs, d170t8Cbs, d170t17Cbs, d098t8Cbs, d098t17Cbs];
const cgh = [l141t8Cgh, l141t17Cgh, l165t8Cgh, l165t17Cgh, d170t8Cgh, d170t17Cgh, d098t8Cgh, d098t17Cgh];

const FONT = '"Liberation Sans", Arial, sans-serif';
const grids = [], xAxes = [], yAxes = [], series = [], graphics = [];

layout.forEach((p, i) => {
  const [l, t, w, h] = p.box;
  grids.push({
    left: l, top: t, width: w, height: h,
    show: true, borderColor: '#000', borderWidth: 2,
    backgroundColor: 'transparent', containLabel: false, outerBoundsMode: 'none'
  });
  const is8 = p.chr === 8;
  const xt = is8 ? xTicks8 : xTicks17;
  xAxes.push({
    gridIndex: i, type: 'value', position: 'bottom',
    min: is8 ? -5 : 1.1, max: is8 ? 147.3 : 78.9,
    splitLine: { show: false },
    axisLine: { show: false, onZero: false },
    axisTick: { show: true, inside: false, length: 11, lineStyle: { color: '#000', width: 2 }, customValues: xt },
    axisLabel: { show: true, margin: 29, color: '#000', fontSize: 16, fontFamily: FONT, customValues: xt },
    name: 'Position (Mb)', nameLocation: 'middle', nameGap: 72,
    nameTextStyle: { color: '#000', fontSize: 18, fontFamily: FONT }
  });
  yAxes.push({
    gridIndex: i, type: 'value', position: 'left', min: -5.4, max: 5.4,
    splitLine: { show: false },
    axisLine: { show: false, onZero: false },
    axisTick: { show: true, inside: false, length: 11, lineStyle: { color: '#000', width: 2 }, customValues: yTicks },
    axisLabel: { show: true, rotate: 90, margin: 20, color: '#000', fontSize: 16, fontFamily: FONT, customValues: yLabels },
    name: 'Log2(Ratio)', nameLocation: 'middle', nameRotate: 90, nameGap: 67,
    nameTextStyle: { color: '#000', fontSize: 18, fontFamily: FONT }
  });
  series.push({
    type: 'scatter', xAxisIndex: i, yAxisIndex: i, data: pts[i],
    symbol: 'circle', symbolSize: 8.5, itemStyle: { color: '#a4a4a4' }, z: 2
  });
  series.push({
    type: 'line', xAxisIndex: i, yAxisIndex: i, data: wav[i], symbol: 'none',
    lineStyle: { color: '#000', width: 2.5 }, z: 3
  });
  series.push({
    type: 'line', xAxisIndex: i, yAxisIndex: i, data: cbs[i], symbol: 'none',
    lineStyle: { color: '#000', width: 4.5, type: [13, 9] }, z: 4
  });
  series.push({
    type: 'line', xAxisIndex: i, yAxisIndex: i, data: cgh[i], symbol: 'none',
    lineStyle: { color: '#777', width: 1.5, type: [2, 4] }, z: 5
  });
  graphics.push({
    type: 'text', x: p.tc[0], y: p.tc[1],
    style: {
      text: titles[i], fill: '#000', font: 'bold 20px "DejaVu Sans", sans-serif',
      align: 'center', verticalAlign: 'middle', textAlign: 'center', textVerticalAlign: 'middle'
    }
  });
});

// legend (top-right panel)
const legendRows = [['Wavelet', 70], ['CBS', 85.5], ['CGHseg', 101]];
graphics.push(
  { type: 'line', shape: { x1: 895, y1: 70, x2: 921, y2: 70 }, style: { stroke: '#000', lineWidth: 1.5 } },
  { type: 'line', shape: { x1: 895, y1: 85.5, x2: 921, y2: 85.5 }, style: { stroke: '#000', lineWidth: 3.5, lineDash: [8, 10] } },
  { type: 'line', shape: { x1: 895, y1: 101, x2: 921, y2: 101 }, style: { stroke: '#777', lineWidth: 1.5, lineDash: [2, 7] } }
);
legendRows.forEach(r => {
  graphics.push({
    type: 'text', x: 933, y: r[1],
    style: {
      text: r[0], fill: '#000', font: '14px ' + FONT,
      align: 'left', verticalAlign: 'middle', textAlign: 'left', textVerticalAlign: 'middle'
    }
  });
});

const chart = echarts.init(document.getElementById('chart'), null, { renderer: 'canvas' });
chart.setOption({
  animation: false,
  backgroundColor: '#fff',
  grid: grids,
  xAxis: xAxes,
  yAxis: yAxes,
  series: series,
  graphic: graphics
});
</script>
</body>
</html>
